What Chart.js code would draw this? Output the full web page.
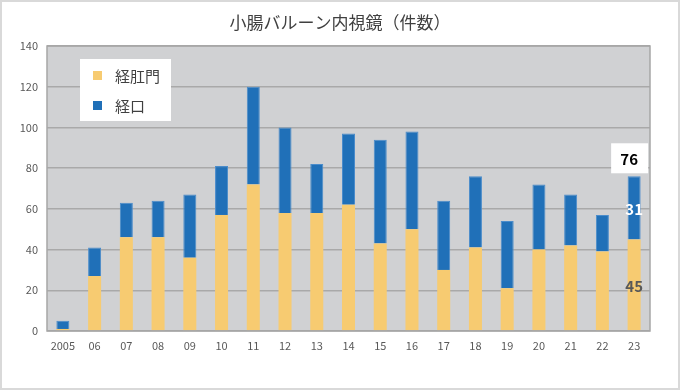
<!DOCTYPE html>
<html>
<head>
<meta charset="utf-8">
<script src="https://cdn.jsdelivr.net/npm/chart.js@4/dist/chart.umd.min.js"></script>
<style>
html, body { margin: 0; padding: 0; background: #fff; }
#wrap { width: 680px; height: 390px; position: relative; }
</style>
</head>
<body>
<div id="wrap"><canvas id="chart" width="680" height="390"></canvas></div>
<script>
// 年度ラベル
var years = ['2005','06','07','08','09','10','11','12','13','14','15','16','17','18','19','20','21','22','23'];
// 経肛門（件数）
var transAnal = [1, 27, 46, 46, 36, 57, 72, 58, 58, 62, 43, 50, 30, 41, 21, 40, 42, 39, 45];
// 経口（件数）
var transOral = [4, 14, 17, 18, 31, 24, 48, 42, 24, 35, 51, 48, 34, 35, 33, 32, 25, 18, 31];
var yTicks = [0, 20, 40, 60, 80, 100, 120, 140];
var chartTitle = '小腸バルーン内視鏡（件数）';

var jpFont = '"Noto Sans CJK JP", "Noto Sans", sans-serif';
var yellow = '#F7CB71';
var blue = '#2070B8';

// 背景、外枠、タイトル
var bgPlugin = {
	id: 'bgPlugin',
	beforeDraw: function(chart){
		var ctx = chart.ctx, a = chart.chartArea;
		ctx.save();
		ctx.fillStyle = '#fff';
		ctx.fillRect(0, 0, chart.width, chart.height);
		ctx.strokeStyle = '#D9D9D9';
		ctx.lineWidth = 2;
		ctx.strokeRect(1, 1, chart.width - 2, chart.height - 2);
		ctx.fillStyle = '#D0D1D3';
		ctx.fillRect(a.left, a.top, a.right - a.left, a.bottom - a.top);
		// タイトルは画像全体の中央
		ctx.fillStyle = '#404040';
		ctx.font = '17px ' + jpFont;
		ctx.textAlign = 'center';
		ctx.textBaseline = 'middle';
		ctx.fillText(chartTitle, chart.width / 2, 23);
		ctx.restore();
	},
	afterDraw: function(chart){
		var ctx = chart.ctx, a = chart.chartArea;
		ctx.save();
		ctx.strokeStyle = '#A6A6A6';
		ctx.lineWidth = 1.5;
		ctx.strokeRect(a.left, a.top, a.right - a.left, a.bottom - a.top);
		ctx.restore();
	}
};

// 凡例（白い箱、プロット内）
var legendBox = {
	id: 'legendBox',
	afterDraw: function(chart){
		var ctx = chart.ctx;
		var x = 80, y = 59, w = 91, h = 62;
		ctx.save();
		ctx.fillStyle = '#fff';
		ctx.fillRect(x, y, w, h);
		chart.data.datasets.forEach(function(ds, i){
			var cy = 75 + i * 30;
			ctx.fillStyle = ds.backgroundColor;
			ctx.fillRect(93, cy - 4, 9, 9);
			ctx.fillStyle = '#404040';
			ctx.font = '15px ' + jpFont;
			ctx.textBaseline = 'middle';
			ctx.textAlign = 'left';
			ctx.fillText(ds.label, 115, cy + 1);
		});
		ctx.restore();
	}
};

// 最終年のデータラベル
var lastLabels = {
	id: 'lastLabels',
	afterDatasetsDraw: function(chart){
		var ctx = chart.ctx;
		var i = years.length - 1;
		var yScale = chart.scales.y;
		var bar = chart.getDatasetMeta(0).data[i];
		var cx = bar.x;
		var a = transAnal[i], o = transOral[i], total = a + o;
		ctx.save();
		ctx.textAlign = 'center';
		ctx.textBaseline = 'middle';
		ctx.font = 'bold 15px ' + jpFont;
		ctx.fillStyle = '#595959';
		ctx.fillText(String(a), cx, yScale.getPixelForValue(a / 2) + 1);
		ctx.fillStyle = '#fff';
		ctx.fillText(String(o), cx, yScale.getPixelForValue(a + o / 2) + 1);
		var ty = yScale.getPixelForValue(total);
		ctx.fillStyle = '#fff';
		ctx.fillRect(cx - 23, ty - 33, 37, 30);
		ctx.fillStyle = '#000';
		ctx.fillText(String(total), cx - 5, ty - 17);
		ctx.restore();
	}
};

var ctx = document.getElementById('chart').getContext('2d');
var myChart = new Chart(ctx, {
	type: 'bar',
	data: {
		labels: years,
		datasets: [
			{ label: '経肛門', data: transAnal, backgroundColor: yellow, borderWidth: 0 },
			{ label: '経口', data: transOral, backgroundColor: blue, borderColor: '#4A8CCB', borderWidth: 1 }
		]
	},
	options: {
		responsive: false,
		animation: false,
		layout: { padding: { left: 0, right: 30, top: 46, bottom: 0 } },
		datasets: { bar: { categoryPercentage: 1, barPercentage: 0.41 } },
		plugins: {
			legend: { display: false },
			tooltip: { enabled: false },
			title: { display: false }
		},
		scales: {
			x: {
				stacked: true,
				grid: { display: false, drawTicks: false },
				border: { display: false },
				ticks: { color: '#595959', font: { family: jpFont, size: 11 }, padding: 8, maxRotation: 0, autoSkip: false },
				afterFit: function(s){ s.height = 59; }
			},
			y: {
				stacked: true,
				min: 0, max: 140,
				afterBuildTicks: function(s){ s.ticks = yTicks.map(function(v){ return { value: v }; }); },
				grid: { color: '#A9A9A9', lineWidth: 1.5, drawTicks: false },
				border: { display: false },
				ticks: { color: '#595959', font: { family: jpFont, size: 11 }, padding: 9 },
				afterFit: function(s){ s.width = 47; }
			}
		}
	},
	plugins: [bgPlugin, legendBox, lastLabels]
});
</script>
</body>
</html>
